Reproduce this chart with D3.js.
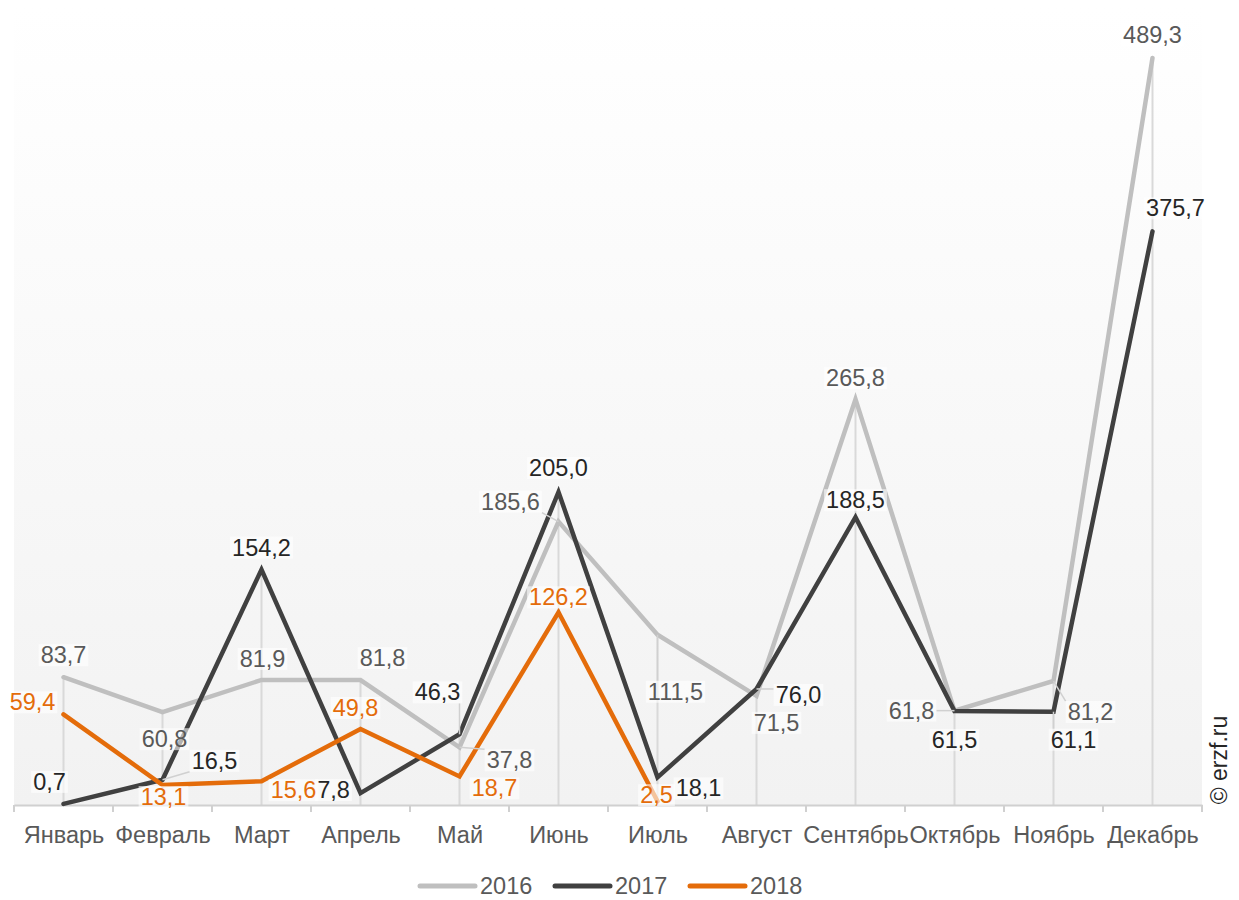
<!DOCTYPE html>
<html>
<head>
<meta charset="utf-8">
<script src="https://cdn.jsdelivr.net/npm/d3@7"></script>
<style>
  body { margin: 0; background: #fff; }
  svg { display: block; font-family: "Liberation Sans", Arial, sans-serif; }
</style>
</head>
<body>
<svg id="chart" width="1239" height="900"></svg>
<script>
// data
const months = ["Январь", "Февраль", "Март", "Апрель", "Май", "Июнь", "Июль", "Август", "Сентябрь", "Октябрь", "Ноябрь", "Декабрь"];
const years = ["2016", "2017", "2018"];
const values2016 = [83.7, 60.8, 81.9, 81.8, 37.8, 185.6, 111.5, 71.5, 265.8, 61.8, 81.2, 489.3];
const values2017 = [0.7, 16.5, 154.2, 7.8, 46.3, 205.0, 18.1, 76.0, 188.5, 61.5, 61.1, 375.7];
const values2018 = [59.4, 13.1, 15.6, 49.8, 18.7, 126.2, 2.5];

// label placement: [dx, dy, leader line]
const labelPos2016 = [[0,-22],[2,27],[1,-21],[22,-22],[50,13,1],[-48,-20,1],[18,57,1],[20,27],[0,-21],[-43,0,1],[37,31,1],[0,-23]];
const labelPos2017 = [[-14,-22],[52,-19,1],[0,-22],[-27,-3],[-22,-42,1],[0,-24],[41,11],[42,6,1],[0,-17],[0,29],[20,28,1],[23,-23]];
const labelPos2018 = [[-31,-12],[1,12],[32,9],[-5,-21],[35,12],[0,-15],[-1,-6]];

const series = [
  {name: years[0], values: values2016, labels: labelPos2016, color: "#bfbfbf", text: "#595959"},
  {name: years[1], values: values2017, labels: labelPos2017, color: "#404040", text: "#262626"},
  {name: years[2], values: values2018, labels: labelPos2018, color: "#e46c0a", text: "#e46c0a"}
];

const svg = d3.select("#chart");
const plotLeft = 14, plotRight = 1202, plotTop = 8, plotBottom = 805;
const fontSize = 23.5;

const x = d3.scalePoint().domain(months).range([plotLeft, plotRight]).padding(0.5);
const y = d3.scaleLinear().domain([0, 522]).range([plotBottom, plotTop]);
const fmt = v => d3.format(".1f")(v).replace(".", ",");

// plot background
const grad = svg.append("defs").append("linearGradient")
    .attr("id", "bg").attr("x1", 0).attr("y1", 0).attr("x2", 0).attr("y2", 1);
grad.append("stop").attr("offset", "0%").attr("stop-color", "#ffffff");
grad.append("stop").attr("offset", "100%").attr("stop-color", "#f2f2f2");
svg.append("rect")
    .attr("x", plotLeft).attr("y", plotTop)
    .attr("width", plotRight - plotLeft).attr("height", plotBottom - plotTop)
    .attr("fill", "url(#bg)");

// drop lines
svg.append("g").selectAll("line")
  .data(months)
  .join("line")
    .attr("x1", d => x(d)).attr("x2", d => x(d))
    .attr("y1", (d, i) => y(d3.max(series, s => s.values[i] || 0)))
    .attr("y2", plotBottom)
    .attr("stroke", "#d9d9d9").attr("stroke-width", 2);

// x axis
const xAxis = svg.append("g")
    .attr("transform", "translate(0," + plotBottom + ")")
    .call(d3.axisBottom(x).tickSize(0).tickPadding(21));
xAxis.select(".domain").attr("stroke", "#d0d0d0").attr("stroke-width", 2);
xAxis.selectAll("text")
    .attr("fill", "#595959").attr("font-size", fontSize)
    .attr("font-family", "Liberation Sans, Arial, sans-serif");
const step = x.step();
xAxis.append("g").selectAll("line")
  .data(d3.range(months.length + 1))
  .join("line")
    .attr("x1", i => plotLeft + i * step).attr("x2", i => plotLeft + i * step)
    .attr("y1", 0).attr("y2", 7)
    .attr("stroke", "#d0d0d0").attr("stroke-width", 2);

// lines
const line = d3.line()
    .x((d, i) => x(months[i]))
    .y(d => y(d));

svg.append("g").selectAll("path")
  .data(series)
  .join("path")
    .attr("d", s => line(s.values))
    .attr("fill", "none")
    .attr("stroke", s => s.color)
    .attr("stroke-width", 4.5)
    .attr("stroke-linejoin", "miter")
    .attr("stroke-linecap", "round");

// data labels
const labelLayer = svg.append("g");
series.forEach(s => {
  s.values.forEach((v, i) => {
    const p = s.labels[i];
    const px = x(months[i]), py = y(v);
    const cx = px + p[0], cy = py + p[1];
    const g = labelLayer.append("g");
    const t = g.append("text")
        .attr("x", cx).attr("y", cy)
        .attr("text-anchor", "middle")
        .attr("dominant-baseline", "central")
        .attr("font-size", fontSize)
        .attr("fill", s.text)
        .text(fmt(v));
    const bb = t.node().getBBox();
    g.insert("rect", "text")
        .attr("x", bb.x - 2).attr("y", bb.y + 2)
        .attr("width", bb.width + 4).attr("height", bb.height - 4)
        .attr("fill", "#ffffff").attr("fill-opacity", 0.6);
    if (p[2]) {
      const ex = Math.max(bb.x - 2, Math.min(px, bb.x + bb.width + 2));
      const ey = Math.max(bb.y + 2, Math.min(py, bb.y + bb.height - 2));
      g.insert("line", "rect")
          .attr("x1", px).attr("y1", py)
          .attr("x2", ex).attr("y2", ey)
          .attr("stroke", "#d0d0d0").attr("stroke-width", 1.5);
    }
  });
});

// legend
const legend = svg.append("g").attr("transform", "translate(420,886)");
const item = legend.selectAll("g")
  .data(series)
  .join("g")
    .attr("transform", (d, i) => "translate(" + (i * 135) + ",0)");
item.append("line")
    .attr("x1", 0).attr("x2", 55)
    .attr("stroke", d => d.color)
    .attr("stroke-width", 5)
    .attr("stroke-linecap", "round");
item.append("text")
    .attr("x", 60)
    .attr("dominant-baseline", "central")
    .attr("font-size", fontSize)
    .attr("fill", "#595959")
    .text(d => d.name);

// watermark
svg.append("text")
    .attr("transform", "translate(1227,760) rotate(-90)")
    .attr("text-anchor", "middle")
    .attr("font-size", 23)
    .attr("fill", "#262626")
    .text("© erzf.ru");
</script>
</body>
</html>
